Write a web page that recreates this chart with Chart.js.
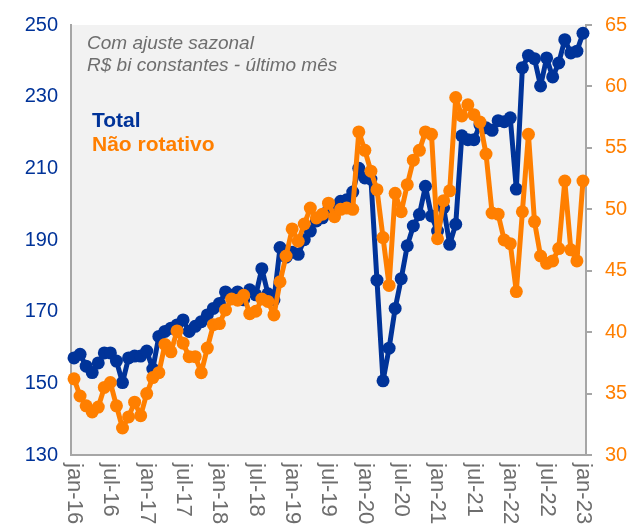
<!DOCTYPE html>
<html>
<head>
<meta charset="utf-8">
<script src="https://cdn.jsdelivr.net/npm/chart.js@4.4.1/dist/chart.umd.min.js"></script>
<style>
  html, body { margin: 0; padding: 0; background: #FFFFFF; }
  #wrap { width: 636px; height: 531px; }
</style>
</head>
<body>
<div id="wrap"><canvas id="chart" width="636" height="531"></canvas></div>
<script>
// monthly categories jan-16 .. jan-23
const monthNames = ['jan', 'fev', 'mar', 'abr', 'mai', 'jun', 'jul', 'ago', 'set', 'out', 'nov', 'dez'];
const years = ['16', '17', '18', '19', '20', '21', '22', '23'];
const months = [];
years.forEach(y => monthNames.forEach(m => months.push(m + '-' + y)));
months.length = 85;

// labels printed under the axis
const tickLabels = ['jan-16', 'jul-16', 'jan-17', 'jul-17', 'jan-18', 'jul-18', 'jan-19', 'jul-19',
  'jan-20', 'jul-20', 'jan-21', 'jul-21', 'jan-22', 'jul-22', 'jan-23'];

// Total (R$ bi, left axis)
const total = [
  157.1, 158.1, 154.8, 153.0, 155.7, 158.5, 158.5, 156.2, 150.2, 157.1, 157.6, 157.6,
  159.0, 154.0, 163.1, 164.5, 165.4, 166.3, 167.7, 164.5, 165.9, 167.2, 169.1, 170.9,
  172.3, 175.5, 174.6, 175.5, 173.3, 176.1, 174.7, 182.0, 175.0, 173.3, 187.9, 185.2,
  186.6, 186.0, 190.1, 192.5, 195.3, 196.2, 198.4, 199.0, 200.8, 201.2, 203.4, 210.0,
  207.3, 207.0, 178.8, 150.7, 159.8, 170.9, 179.2, 188.4, 193.9, 197.1, 205.0, 196.7,
  192.5, 199.0, 188.8, 194.4, 219.1, 218.0, 218.0, 222.1, 221.3, 220.6, 223.3, 223.0,
  224.1, 204.2, 238.1, 241.5, 240.6, 233.0, 240.8, 235.5, 239.4, 245.9, 242.2, 242.7,
  247.7
];

// Não rotativo (R$ bi, right axis)
const naoRotativo = [
  36.2, 34.8, 34.0, 33.5, 33.9, 35.5, 35.9, 34.0, 32.2, 33.1, 34.3, 33.2,
  35.0, 36.3, 36.7, 39.0, 38.4, 40.1, 39.1, 38.0, 38.0, 36.7, 38.7, 40.6,
  40.7, 41.8, 42.7, 42.6, 43.0, 41.5, 41.7, 42.7, 42.5, 41.4, 44.1, 46.2,
  48.4, 47.4, 48.8, 50.1, 49.3, 49.6, 50.5, 49.4, 50.0, 50.1, 50.0, 56.3,
  54.8, 53.1, 51.6, 47.7, 43.8, 51.3, 49.8, 52.0, 54.0, 54.8, 56.3, 56.1,
  47.6, 50.7, 51.5, 59.1, 57.6, 58.5, 57.7, 57.1, 54.5, 49.7, 49.6, 47.5,
  47.2, 43.3, 49.8, 56.1, 49.0, 46.2, 45.6, 45.8, 46.8, 52.3, 46.7, 45.8,
  52.3
];

const leftTicks = [130, 150, 170, 190, 210, 230, 250];
const rightTicks = [30, 35, 40, 45, 50, 55, 60, 65];

const BLUE = '#003399';
const ORANGE = '#FF7F00';
const AXIS = '#A6A6A6';
const FONT = '"Liberation Sans", Arial, sans-serif';

// grey plot background
const plotBg = {
  id: 'plotBg',
  beforeDraw(chart) {
    const { ctx, chartArea: a } = chart;
    ctx.save();
    ctx.fillStyle = '#F2F2F2';
    ctx.fillRect(a.left, a.top, a.right - a.left, a.bottom - a.top);
    ctx.restore();
  },
};

// notes, series names and the vertical month labels
const annotations = {
  id: 'annotations',
  afterDraw(chart) {
    const ctx = chart.ctx;
    const xs = chart.scales.x;
    ctx.save();
    ctx.textBaseline = 'middle';
    ctx.textAlign = 'left';

    ctx.font = 'italic 19px ' + FONT;
    ctx.fillStyle = '#6E6E6E';
    ctx.fillText('Com ajuste sazonal', 87, 44);
    ctx.fillText('R$ bi constantes - último mês', 87, 66);

    ctx.font = 'bold 21px ' + FONT;
    ctx.fillStyle = BLUE;
    ctx.fillText('Total', 92, 121);
    ctx.fillStyle = ORANGE;
    ctx.fillText('Não rotativo', 92, 145);

    ctx.font = '22px ' + FONT;
    ctx.fillStyle = '#6E6E6E';
    tickLabels.forEach(lbl => {
      const i = months.indexOf(lbl);
      const x = xs.getPixelForValue(i);
      ctx.save();
      ctx.translate(x, xs.top + 8);
      ctx.rotate(Math.PI / 2);
      ctx.fillText(lbl, 0, 0);
      ctx.restore();
    });
    ctx.restore();
  },
};

new Chart(document.getElementById('chart'), {
  type: 'line',
  data: {
    labels: months,
    datasets: [
      {
        label: 'Não rotativo',
        data: naoRotativo,
        yAxisID: 'y1',
        borderColor: ORANGE,
        backgroundColor: ORANGE,
        pointBackgroundColor: ORANGE,
        borderWidth: 5,
        borderJoinStyle: 'round',
        borderCapStyle: 'round',
        pointRadius: 6.5,
        pointBorderWidth: 0,
        tension: 0,
        order: 0,
      },
      {
        label: 'Total',
        data: total,
        yAxisID: 'y',
        borderColor: BLUE,
        backgroundColor: BLUE,
        pointBackgroundColor: BLUE,
        borderWidth: 5,
        borderJoinStyle: 'round',
        borderCapStyle: 'round',
        pointRadius: 6.5,
        pointBorderWidth: 0,
        tension: 0,
        order: 1,
      },
    ],
  },
  options: {
    responsive: false,
    animation: false,
    layout: { padding: { top: 20, left: 0, right: 0, bottom: 0 } },
    plugins: { legend: { display: false }, tooltip: { enabled: false } },
    scales: {
      x: {
        type: 'category',
        offset: true,
        grid: { display: false },
        border: { display: true, color: AXIS, width: 2 },
        ticks: { display: false },
        afterFit: s => { s.height = 76; },
      },
      y: {
        position: 'left',
        min: 130,
        max: 250,
        afterBuildTicks: s => { s.ticks = leftTicks.map(v => ({ value: v })); },
        grid: { display: false, drawTicks: false },
        border: { display: true, color: AXIS, width: 2 },
        ticks: { color: BLUE, font: { family: FONT, size: 20 }, padding: 13 },
        afterFit: s => { s.width = 71; },
      },
      y1: {
        position: 'right',
        min: 30,
        max: 65,
        afterBuildTicks: s => { s.ticks = rightTicks.map(v => ({ value: v })); },
        grid: { display: true, drawOnChartArea: false, drawTicks: true, tickLength: 6, color: AXIS, lineWidth: 2 },
        border: { display: true, color: AXIS, width: 2 },
        ticks: { color: ORANGE, font: { family: FONT, size: 20 }, padding: 13 },
        afterFit: s => { s.width = 50; },
      },
    },
  },
  plugins: [plotBg, annotations],
});
</script>
</body>
</html>
